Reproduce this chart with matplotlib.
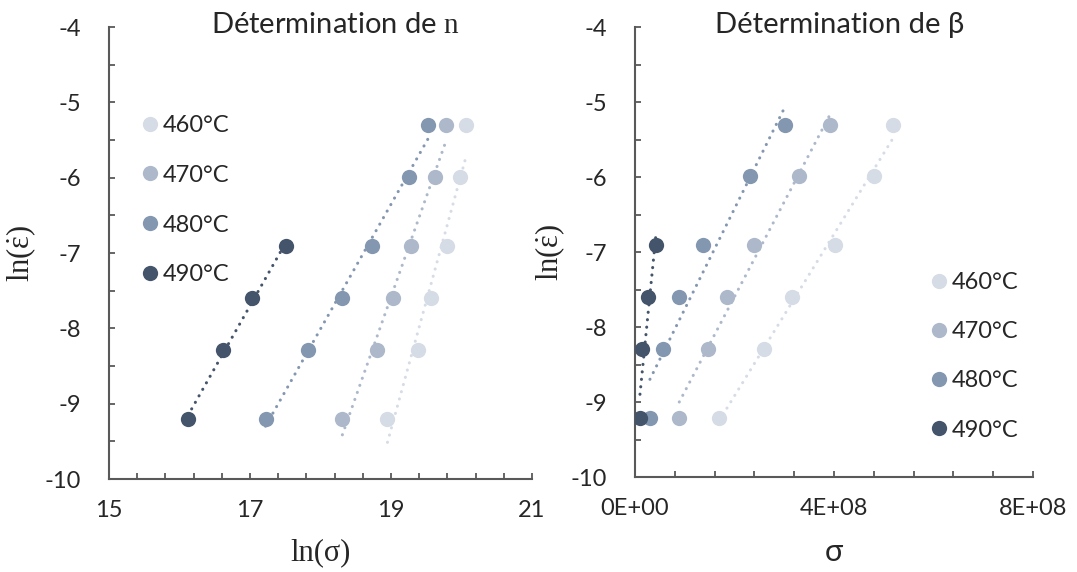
import numpy as np
import matplotlib
matplotlib.use("Agg")
import matplotlib.pyplot as plt
from matplotlib.ticker import MultipleLocator, FixedLocator, FuncFormatter

plt.rcParams["font.family"] = ["Lato", "DejaVu Sans"]
plt.rcParams["axes.unicode_minus"] = False
plt.rcParams["mathtext.fontset"] = "custom"
plt.rcParams["mathtext.rm"] = "Liberation Serif"
plt.rcParams["mathtext.it"] = "Liberation Serif:italic"

temps = ["460°C", "470°C", "480°C", "490°C"]
colors = ["#d6dce5", "#adb9ca", "#8497b0", "#44546a"]

# ln(strain rate), one row per test
ln_eps = [-5.30, -5.99, -6.91, -7.60, -8.29, -9.21]
ln_eps_490 = [-6.91, -7.60, -8.29, -9.21]

# ln(sigma)
ln_sig_460 = [20.07, 19.98, 19.80, 19.57, 19.38, 18.95]
ln_sig_470 = [19.78, 19.62, 19.29, 19.03, 18.80, 18.31]
ln_sig_480 = [19.53, 19.26, 18.73, 18.31, 17.82, 17.22]
ln_sig_490 = [17.51, 17.03, 16.61, 16.12]

# sigma
sig_460 = [5.19e8, 4.81e8, 4.02e8, 3.16e8, 2.60e8, 1.69e8]
sig_470 = [3.92e8, 3.29e8, 2.39e8, 1.85e8, 1.46e8, 0.89e8]
sig_480 = [3.01e8, 2.31e8, 1.36e8, 0.89e8, 0.57e8, 0.30e8]
sig_490 = [0.42e8, 0.27e8, 0.15e8, 0.10e8]

left_x = [ln_sig_460, ln_sig_470, ln_sig_480, ln_sig_490]
right_x = [sig_460, sig_470, sig_480, sig_490]
ys = [ln_eps, ln_eps, ln_eps, ln_eps_490]

axis_col = "#595959"
txt_col = "#262626"
serif = ["Liberation Serif", "DejaVu Serif"]
ylab = r"$\mathrm{ln(}\dot{\mathrm{\varepsilon}}\mathrm{)}$"

fig = plt.figure(figsize=(10.77, 5.72), dpi=100)
ax1 = fig.add_axes([109 / 1077, 1 - 479 / 572, 423 / 1077, 452 / 572])
ax2 = fig.add_axes([635 / 1077, 1 - 477 / 572, 398 / 1077, 450 / 572])


def draw(ax, xs_list):
    for xs, y, c, lab in zip(xs_list, ys, colors, temps):
        xs = np.array(xs)
        y = np.array(y)
        ax.plot(xs, y, "o", color=c, ms=11, mec="none", label=lab, zorder=3)
        # linear trendline over the data range
        k, b = np.polyfit(xs, y, 1)
        xx = np.array([xs.min(), xs.max()])
        ax.plot(xx, k * xx + b, color=c, lw=2.2, linestyle=(0, (0.05, 2.4)),
                dash_capstyle="round", zorder=4)
    ax.set_ylim(-10, -4)
    ax.yaxis.set_major_locator(MultipleLocator(1))
    ax.yaxis.set_minor_locator(MultipleLocator(0.5))
    for s in ["top", "right"]:
        ax.spines[s].set_visible(False)
    for s in ["left", "bottom"]:
        ax.spines[s].set_color(axis_col)
        ax.spines[s].set_linewidth(1.5)
    ax.tick_params(which="both", direction="in", length=4.5, width=1.3,
                   color=axis_col, labelsize=17, labelcolor=txt_col)
    ax.tick_params(axis="x", pad=15)
    ax.tick_params(axis="y", pad=20)
    ax.set_ylabel(ylab, fontsize=22, color=txt_col)


draw(ax1, left_x)
ax1.set_xlim(15, 21)
ax1.xaxis.set_major_locator(FixedLocator([15, 17, 19, 21]))
ax1.xaxis.set_minor_locator(FixedLocator(np.linspace(15, 21, 16)))
ax1.set_xlabel("ln(σ)", family=serif, fontsize=22, color=txt_col)
ax1.yaxis.set_label_coords(-0.168, 0.5)
ax1.xaxis.set_label_coords(0.5, -0.13)
ax1.legend(loc="center left", bbox_to_anchor=(0.058, 0.617), frameon=False,
           fontsize=17, handlelength=0.6, handletextpad=0.25, labelspacing=1.22,
           borderaxespad=0, labelcolor=txt_col)

draw(ax2, right_x)
ax2.set_xlim(0, 8e8)
ax2.xaxis.set_major_locator(MultipleLocator(4e8))
ax2.xaxis.set_minor_locator(MultipleLocator(0.8e8))
ax2.xaxis.set_major_formatter(FuncFormatter(lambda v, p: f"{v:.0E}"))
ax2.set_xlabel("σ", fontsize=22, color=txt_col)
ax2.yaxis.set_label_coords(-0.171, 0.5)
ax2.xaxis.set_label_coords(0.5, -0.135)
ax2.legend(loc="center left", bbox_to_anchor=(0.722, 0.268), frameon=False,
           fontsize=17, handlelength=0.6, handletextpad=0.25, labelspacing=1.19,
           borderaxespad=0, labelcolor=txt_col)

fig.text(335 / 1077, 1 - 33 / 572, "Détermination de $\\mathrm{n}$",
         ha="center", va="baseline", fontsize=21, color=txt_col)
fig.text(840 / 1077, 1 - 33 / 572, "Détermination de β",
         ha="center", va="baseline", fontsize=21, color=txt_col)

fig.savefig("out.png", dpi=100)
